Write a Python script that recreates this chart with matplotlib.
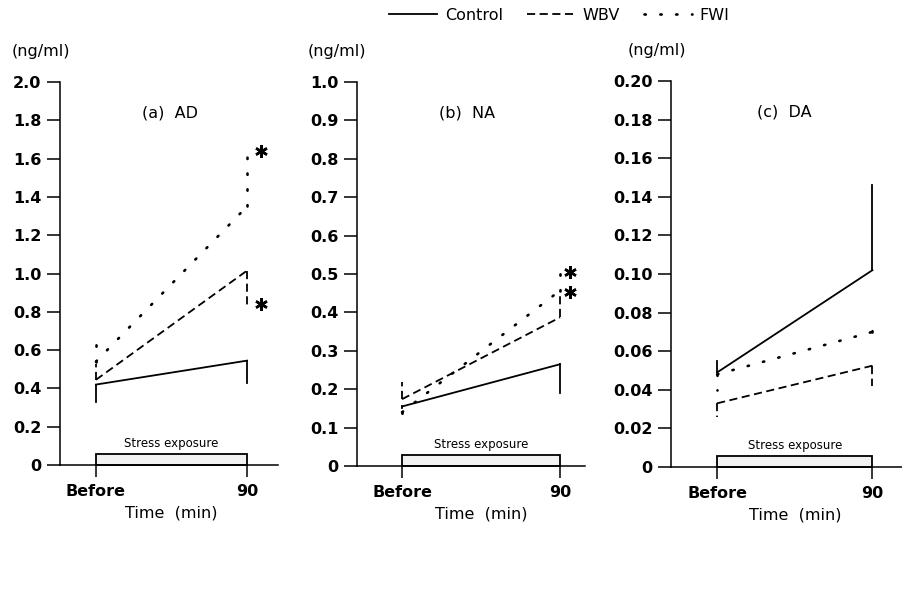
import matplotlib
matplotlib.use("Agg")
import matplotlib.pyplot as plt
import matplotlib.transforms as mtrans
from matplotlib.patches import Rectangle

# x positions: Before, 90 min
times = [0, 1]
time_labels = ["Before", "90"]

# (a) AD  -- means and the end of the one-sided error bar
ad_control = [0.42, 0.545]
ad_control_err = [0.33, 0.43]
ad_wbv = [0.445, 1.015]
ad_wbv_err = [0.53, 0.835]
ad_fwi = [0.54, 1.35]
ad_fwi_err = [0.63, 1.66]
ad_stars = [1.64, 0.84]
ad_ticks = [0, 0.2, 0.4, 0.6, 0.8, 1.0, 1.2, 1.4, 1.6, 1.8, 2.0]
ad_ticklabels = ["0", "0.2", "0.4", "0.6", "0.8", "1.0", "1.2", "1.4", "1.6", "1.8", "2.0"]

# (b) NA
na_control = [0.155, 0.265]
na_control_err = [0.15, 0.19]
na_wbv = [0.174, 0.387]
na_wbv_err = [0.219, 0.455]
na_fwi = [0.14, 0.457]
na_fwi_err = [0.105, 0.506]
na_stars = [0.505, 0.453]
na_ticks = [0, 0.1, 0.2, 0.3, 0.4, 0.5, 0.6, 0.7, 0.8, 0.9, 1.0]
na_ticklabels = ["0", "0.1", "0.2", "0.3", "0.4", "0.5", "0.6", "0.7", "0.8", "0.9", "1.0"]

# (c) DA
da_control = [0.049, 0.102]
da_control_err = [0.055, 0.146]
da_wbv = [0.033, 0.0525]
da_wbv_err = [0.026, 0.042]
da_fwi = [0.048, 0.070]
da_fwi_err = [0.040, 0.0757]
da_stars = []
da_ticks = [0, 0.02, 0.04, 0.06, 0.08, 0.10, 0.12, 0.14, 0.16, 0.18, 0.20]
da_ticklabels = ["0", "0.02", "0.04", "0.06", "0.08", "0.10", "0.12", "0.14", "0.16", "0.18", "0.20"]

styles = {
    "Control": dict(linestyle="-", linewidth=1.3),
    "WBV": dict(linestyle=(0, (4.5, 2.5)), linewidth=1.3),
    "FWI": dict(linestyle=(0, (0.5, 5.5)), linewidth=1.9, dash_capstyle="round"),
}

fig = plt.figure(figsize=(9.02, 6.07), dpi=100)

# axes boxes in pixels: left, right, bottom(y of 0), top(y of max)
boxes = [(60, 278, 465, 82), (357, 585, 466, 82), (671, 902, 467, 81)]
xlims = [(-0.238, 1.205), (-0.285, 1.158), (-0.297, 1.19)]
titles = ["(a)  AD", "(b)  NA", "(c)  DA"]
title_x = [0.49, 0.41, 0.43]
unit_x = [-0.22, -0.215, -0.186]

panels = [
    (ad_control, ad_control_err, ad_wbv, ad_wbv_err, ad_fwi, ad_fwi_err, ad_stars, ad_ticks, ad_ticklabels, 1.09),
    (na_control, na_control_err, na_wbv, na_wbv_err, na_fwi, na_fwi_err, na_stars, na_ticks, na_ticklabels, 1.06),
    (da_control, da_control_err, da_wbv, da_wbv_err, da_fwi, da_fwi_err, da_stars, da_ticks, da_ticklabels, 1.06),
]

handles = []
for i, p in enumerate(panels):
    ctrl, ctrl_e, wbv, wbv_e, fwi, fwi_e, stars, yt, ytl, star_x = p
    l, r, b, t = boxes[i]
    ax = fig.add_axes([l / 902, 1 - b / 607, (r - l) / 902, (b - t) / 607])
    ymax = yt[-1]

    hs = []
    for name, m, e in [("Control", ctrl, ctrl_e), ("WBV", wbv, wbv_e), ("FWI", fwi, fwi_e)]:
        h, = ax.plot(times, m, color="k", label=name, clip_on=False, **styles[name])
        for x, mv, ev in zip(times, m, e):
            ax.plot([x, x], [mv, ev], color="k", clip_on=False, **styles[name])
        hs.append(h)
    if i == 0:
        handles = hs

    for sy in stars:
        ax.plot(star_x, sy, marker=(6, 2, 0), markersize=9, mew=1.8, color="k", clip_on=False)

    # stress exposure bar
    trans = mtrans.blended_transform_factory(ax.transData, ax.transAxes)
    ax.add_patch(Rectangle((times[0], 0), times[1] - times[0], 0.028, transform=trans,
                           facecolor="#f2f2f2", edgecolor="k", linewidth=1.3, clip_on=False))
    ax.text(0.5, 0.04, "Stress exposure", transform=trans, ha="center", va="bottom", fontsize=8.5)

    ax.set_xlim(*xlims[i])
    ax.set_ylim(0, ymax)
    ax.set_yticks(yt)
    ax.set_yticklabels(ytl, fontsize=11.5, fontweight="bold")
    ax.set_xticks(times)
    ax.set_xticklabels(time_labels, fontsize=11.5, fontweight="bold")
    ax.tick_params(axis="y", direction="out", length=9.5, width=1.1, pad=4)
    ax.tick_params(axis="x", direction="out", length=8.5, width=1.1, pad=5)
    for s in ["top", "right"]:
        ax.spines[s].set_visible(False)
    for s in ["left", "bottom"]:
        ax.spines[s].set_linewidth(1.1)

    ax.text(0.5, -0.125, "Time  (min)", transform=trans, ha="center", va="center", fontsize=11.5)
    ax.text(title_x[i], 0.92, titles[i], transform=trans, ha="center", va="center", fontsize=11.5)
    ax.text(unit_x[i], 1.08, "(ng/ml)", transform=ax.transAxes, ha="left", va="center", fontsize=11.5)

fig.legend(handles=handles, loc="center", bbox_to_anchor=(0.62, 0.975), ncol=3, frameon=False,
           fontsize=11.5, handlelength=3.0, columnspacing=1.5, handletextpad=0.5)

plt.savefig("out.png", dpi=100)
